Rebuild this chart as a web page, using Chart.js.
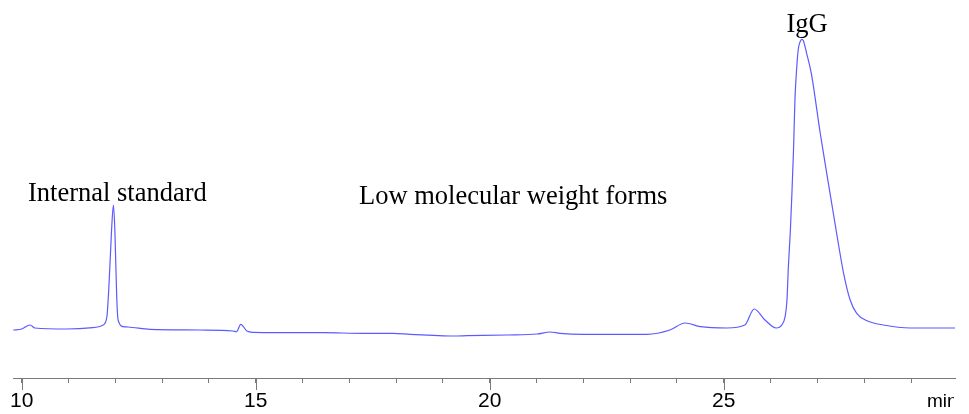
<!DOCTYPE html>
<html>
<head>
<meta charset="utf-8">
<script src="https://cdn.jsdelivr.net/npm/chart.js@4/dist/chart.umd.min.js"></script>
<style>
  html, body { margin: 0; padding: 0; background: #fff; }
  canvas { display: block; }
</style>
</head>
<body>
<canvas id="chrom" width="969" height="414"></canvas>
<script>
// retention time (min)
const times = [
  9.82, 10.00, 10.18, 10.28, 10.96, 11.52, 11.74, 11.82, 11.87, 11.92,
  11.96, 11.99, 12.03, 12.06, 12.17, 12.27, 12.74, 13.81, 14.51, 14.59,
  14.68, 14.81, 14.94, 16.44, 17.29, 17.93, 18.30, 18.79, 19.22, 19.52,
  20.37, 21.01, 21.29, 21.50, 22.00, 23.36, 23.85, 24.17, 24.50, 25.07,
  25.45, 25.65, 25.88, 26.12, 26.24, 26.31, 26.35, 26.38, 26.42, 26.45,
  26.49, 26.52, 26.56, 26.59, 26.63, 26.67, 26.70, 26.77, 26.87, 27.06,
  27.20, 27.41, 27.56, 27.70, 27.84, 28.06, 28.41, 28.98, 29.94
];
// detector signal (arbitrary units)
const signal = [
  48, 49, 53, 50, 49, 50.3, 53, 61.3, 98, 148,
  173, 148, 81.3, 58, 51.3, 51, 48.7, 48, 47, 46.3,
  53.7, 47, 45.7, 45.3, 44.7, 44.7, 43.7, 42.7, 42, 42.3,
  43, 44, 46, 44.7, 43.7, 43.7, 48, 55, 51.3, 50,
  53, 69, 58, 50, 53, 61.3, 78, 111.3, 145, 178,
  228, 278, 311.3, 328, 336.3, 338.7, 337.3, 324.7, 304.7, 245,
  204.7, 145, 104.7, 78, 64.7, 57.3, 53, 50, 50
];
const majorTicks = [10, 15, 20, 25];
const minorTicks = [10, 11, 12, 13, 14, 15, 16, 17, 18, 19, 20, 21, 22, 23, 24, 25, 26, 27, 28, 29];
const peakLabels = ["Internal standard", "Low molecular weight forms", "IgG"];

const AXIS_GREY = "#7a7a7a";

const annotations = {
  id: "annotations",
  afterDraw(chart) {
    const ctx = chart.ctx;
    const x = chart.scales.x;
    ctx.save();
    ctx.fillStyle = "#000";
    ctx.font = "26.5px 'Liberation Serif', 'Times New Roman', serif";
    ctx.textBaseline = "alphabetic";
    ctx.textAlign = "left";
    ctx.fillText(peakLabels[0], 28, 201);
    ctx.fillText(peakLabels[1], 359, 204);
    ctx.textAlign = "center";
    ctx.fillText(peakLabels[2], 807, 32);

    // longer marks at the labelled ticks
    ctx.strokeStyle = AXIS_GREY;
    ctx.lineWidth = 1;
    const top = x.top;
    majorTicks.forEach(v => {
      const px = Math.round(x.getPixelForValue(v)) + 0.5;
      ctx.beginPath();
      ctx.moveTo(px, top);
      ctx.lineTo(px, top + 12);
      ctx.stroke();
    });

    // unit, cut off at the end of the axis
    ctx.beginPath();
    ctx.rect(0, top, x.right - 1, chart.height - top);
    ctx.clip();
    ctx.font = "19px 'Liberation Sans', Arial, sans-serif";
    ctx.textAlign = "left";
    ctx.fillText("min", 927, 407);
    ctx.restore();
  }
};

new Chart(document.getElementById("chrom"), {
  type: "line",
  data: {
    labels: times,
    datasets: [{
      data: times.map((t, i) => ({ x: t, y: signal[i] })),
      borderColor: "#5b5bff",
      borderWidth: 1.2,
      pointRadius: 0,
      cubicInterpolationMode: "monotone",
      fill: false
    }]
  },
  options: {
    responsive: false,
    animation: false,
    layout: { padding: { left: 13, right: 14, top: 0, bottom: 0 } },
    plugins: { legend: { display: false }, tooltip: { enabled: false } },
    scales: {
      x: {
        type: "linear",
        min: 9.814,
        max: 29.94,
        afterFit: s => { s.height = 36; },
        afterBuildTicks: s => {
          s.ticks = minorTicks.map(v => ({ value: v }));
        },
        border: { display: true, color: AXIS_GREY, width: 1 },
        grid: {
          drawOnChartArea: false,
          drawTicks: true,
          tickLength: 5,
          tickColor: AXIS_GREY
        },
        ticks: {
          autoSkip: false,
          maxRotation: 0,
          padding: 6,
          color: "#000",
          font: { family: "'Liberation Sans Narrow', 'Arial Narrow', 'Liberation Sans', sans-serif", size: 21 },
          callback: v => (majorTicks.includes(v) ? String(v) : "")
        }
      },
      y: {
        display: false,
        min: 0,
        max: 378
      }
    }
  },
  plugins: [annotations]
});
</script>
</body>
</html>
